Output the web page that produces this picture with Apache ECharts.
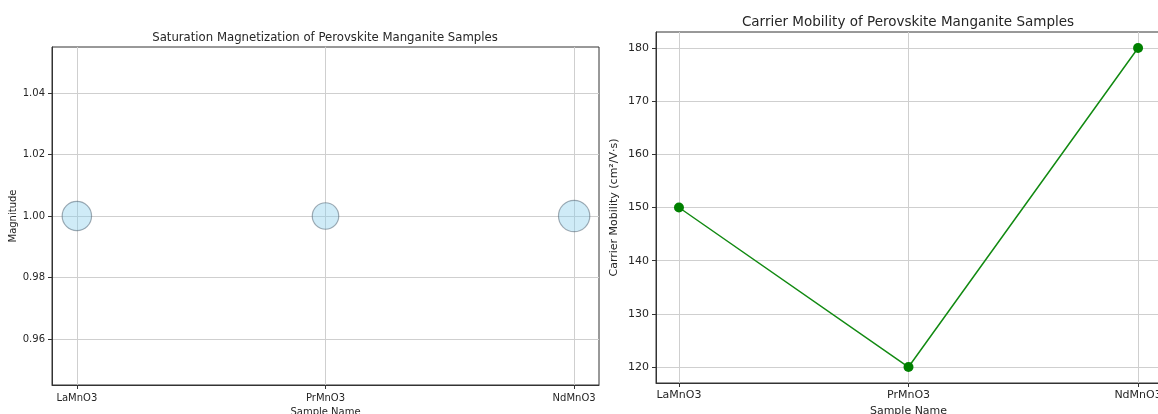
<!DOCTYPE html>
<html>
<head>
<meta charset="utf-8">
<script src="https://cdn.jsdelivr.net/npm/echarts@6/dist/echarts.min.js"></script>
<style>
  html, body { margin: 0; padding: 0; background: #fff; }
  #chart { width: 1158px; height: 414px; }
</style>
</head>
<body>
<div id="chart"></div>
<script>
// Sample names shared by both panels
const samples = ['LaMnO3', 'PrMnO3', 'NdMnO3'];
// Left panel: every sample sits at magnitude 1, bubble area follows saturation magnetization
const magnitude = [1.0, 1.0, 1.0];
const saturationMag = [90, 73, 102];
const magTicks = [0.96, 0.98, 1.00, 1.02, 1.04];
// Right panel: carrier mobility in cm²/V·s
const mobility = [150, 120, 180];
const mobilityTicks = [120, 130, 140, 150, 160, 170, 180];

const sampleIdx = samples.map((_, i) => i);
const font = 'DejaVu Sans';
const textColor = '#262626';
const gridColor = '#cfcfcf';

function xAxisFor(gridIndex, fontSize, labelMargin, nameGap) {
  return {
    type: 'value', gridIndex: gridIndex,
    min: -0.1, max: samples.length - 1 + 0.1,
    name: 'Sample Name', nameLocation: 'middle', nameGap: nameGap,
    nameTextStyle: { fontFamily: font, fontSize: fontSize, color: textColor },
    axisLine: { show: true, onZero: false, lineStyle: { color: '#333', width: 1 } },
    axisTick: { show: true, customValues: sampleIdx, length: 4, lineStyle: { color: '#333' } },
    axisLabel: {
      customValues: sampleIdx, margin: labelMargin,
      fontFamily: font, fontSize: fontSize, color: textColor,
      formatter: v => samples[Math.round(v)]
    },
    splitLine: { show: true, lineStyle: { color: gridColor, width: 1 } }
  };
}

function yAxisFor(gridIndex, min, max, ticks, digits, name, fontSize, nameGap) {
  return {
    type: 'value', gridIndex: gridIndex, min: min, max: max,
    name: name, nameLocation: 'middle', nameGap: nameGap,
    nameTextStyle: { fontFamily: font, fontSize: fontSize, color: textColor },
    axisLine: { show: true, onZero: false, lineStyle: { color: '#333', width: 1 } },
    axisTick: { show: true, customValues: ticks, length: 4, lineStyle: { color: '#333' } },
    axisLabel: {
      customValues: ticks, margin: 7,
      fontFamily: font, fontSize: fontSize, color: textColor,
      formatter: v => v.toFixed(digits)
    },
    splitLine: { show: true, lineStyle: { color: gridColor, width: 1 } }
  };
}

const chart = echarts.init(document.getElementById('chart'), null, { renderer: 'canvas' });

chart.setOption({
  animation: false,
  backgroundColor: '#fff',
  title: [
    {
      text: 'Saturation Magnetization of Perovskite Manganite Samples',
      left: 325, top: 31, textAlign: 'center', padding: 0,
      textStyle: { fontFamily: 'DejaVu Sans Condensed', fontWeight: 'normal', fontSize: 13, color: textColor }
    },
    {
      text: 'Carrier Mobility of Perovskite Manganite Samples',
      left: 908, top: 15, textAlign: 'center', padding: 0,
      textStyle: { fontFamily: font, fontWeight: 'normal', fontSize: 13.5, color: textColor }
    }
  ],
  grid: [
    { left: 52, top: 47, width: 547, height: 338, outerBoundsMode: 'none',
      show: true, borderColor: '#333', borderWidth: 1 },
    { left: 656, top: 32, width: 505, height: 351, outerBoundsMode: 'none',
      show: true, borderColor: '#333', borderWidth: 1 }
  ],
  xAxis: [xAxisFor(0, 10, 8, 22), xAxisFor(1, 11, 7, 23)],
  yAxis: [
    yAxisFor(0, 0.945, 1.055, magTicks, 2, 'Magnitude', 10, 33),
    yAxisFor(1, 117, 183, mobilityTicks, 0, 'Carrier Mobility (cm²/V·s)', 11, 36)
  ],
  series: [
    {
      type: 'scatter', xAxisIndex: 0, yAxisIndex: 0,
      data: samples.map((s, i) => [i, magnitude[i], saturationMag[i]]),
      symbolSize: d => Math.sqrt(d[2]) * 3.1,
      itemStyle: { color: 'rgba(135,206,235,0.5)', borderColor: 'rgba(70,85,100,0.6)', borderWidth: 1.2 },
      z: 3
    },
    {
      type: 'line', xAxisIndex: 1, yAxisIndex: 1,
      data: samples.map((s, i) => [i, mobility[i]]),
      symbol: 'circle', symbolSize: 10,
      lineStyle: { color: '#128a12', width: 1.5 },
      itemStyle: { color: '#008000' },
      z: 3
    }
  ]
});
</script>
</body>
</html>
